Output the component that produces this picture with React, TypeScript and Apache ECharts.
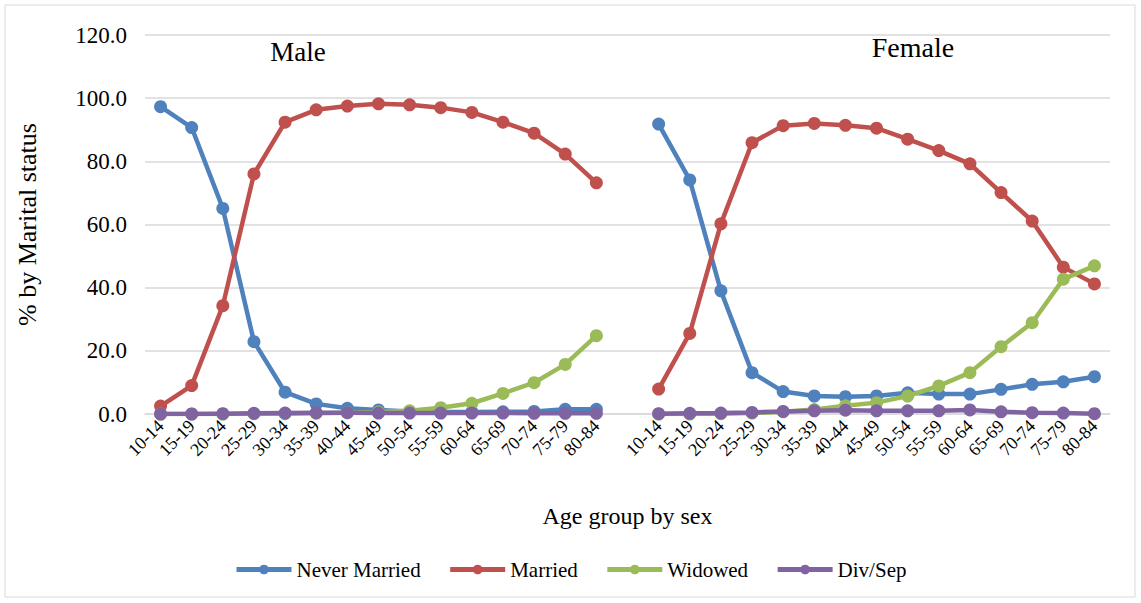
import React, { useEffect, useRef } from "react";
import * as echarts from "echarts";

const ages = ["10-14","15-19","20-24","25-29","30-34","35-39","40-44","45-49","50-54","55-59","60-64","65-69","70-74","75-79","80-84"];
const categories = [...ages, "", ...ages];

const maleNever = [97.3, 90.7, 65.1, 22.9, 6.9, 3.2, 1.8, 1.3, 0.8, 0.6, 0.6, 0.7, 0.8, 1.5, 1.5];
const maleMarried = [2.5, 9.0, 34.3, 76.0, 92.4, 96.3, 97.5, 98.2, 97.9, 97.0, 95.5, 92.4, 88.9, 82.3, 73.2];
const maleWidowed = [0.0, 0.0, 0.0, 0.1, 0.1, 0.2, 0.4, 0.6, 1.0, 2.0, 3.4, 6.5, 9.9, 15.7, 24.8];
const maleDiv = [0.0, 0.0, 0.1, 0.2, 0.3, 0.4, 0.4, 0.3, 0.3, 0.3, 0.3, 0.3, 0.2, 0.2, 0.2];

const femNever = [91.8, 74.1, 39.0, 13.1, 7.1, 5.7, 5.5, 5.7, 6.7, 6.3, 6.3, 7.8, 9.4, 10.2, 11.8];
const femMarried = [7.9, 25.5, 60.2, 85.9, 91.3, 92.0, 91.4, 90.5, 87.0, 83.4, 79.2, 70.1, 61.1, 46.5, 41.2];
const femWidowed = [0.0, 0.0, 0.1, 0.3, 0.7, 1.4, 2.6, 3.6, 5.7, 8.9, 13.1, 21.3, 28.9, 42.7, 46.9];
const femDiv = [0.1, 0.2, 0.3, 0.5, 0.8, 1.0, 1.2, 1.0, 1.0, 1.0, 1.3, 0.7, 0.4, 0.3, 0.1];

const seriesNames = ["Never Married", "Married", "Widowed", "Div/Sep"];
const colors = ["#4F81BD", "#C0504D", "#9BBB59", "#8064A2"];
const yTicks = [0, 20, 40, 60, 80, 100, 120];

const FONT = "'Liberation Serif', 'DejaVu Serif', serif";

export default function App() {
  const ref = useRef<HTMLDivElement>(null);
  useEffect(() => {
    document.body.style.margin = "0";
    const chart = echarts.init(ref.current!, undefined, { renderer: "svg" });
    const pairs = [
      [maleNever, femNever],
      [maleMarried, femMarried],
      [maleWidowed, femWidowed],
      [maleDiv, femDiv],
    ];
    const series = pairs.map((p, i) => ({
      name: seriesNames[i],
      type: "line",
      data: [...p[0], null, ...p[1]],
      symbol: "circle",
      symbolSize: 13,
      showSymbol: true,
      connectNulls: false,
      lineStyle: { width: 4.5, color: colors[i] },
      itemStyle: { color: colors[i] },
      z: 2 + i,
    }));
    chart.setOption({
      animation: false,
      backgroundColor: "#ffffff",
      textStyle: { fontFamily: FONT },
      grid: { left: 145, right: 31, top: 35, bottom: 189 },
      legend: {
        data: seriesNames,
        bottom: 18,
        left: 229,
        itemWidth: 55,
        itemHeight: 12,
        itemGap: 27,
        lineStyle: { width: 5 },
        textStyle: { fontFamily: FONT, fontSize: 21, color: "#000" },
      },
      xAxis: {
        type: "category",
        data: categories,
        boundaryGap: true,
        axisLine: { lineStyle: { color: "#D9D9D9", width: 1.5 } },
        axisTick: { show: false },
        axisLabel: { interval: 0, rotate: 45, fontFamily: FONT, fontSize: 18, color: "#000", margin: 9 },
        name: "Age group by sex",
        nameLocation: "middle",
        nameGap: 90,
        nameTextStyle: { fontFamily: FONT, fontSize: 24, color: "#000" },
      },
      yAxis: {
        type: "value",
        min: yTicks[0],
        max: yTicks[yTicks.length - 1],
        interval: 20,
        axisLine: { show: false },
        axisTick: { show: false },
        splitLine: { lineStyle: { color: "#D9D9D9", width: 1.5 } },
        axisLabel: { fontFamily: FONT, fontSize: 23, color: "#000", margin: 18, formatter: (v: number) => v.toFixed(1) },
        name: "% by Marital status",
        nameLocation: "middle",
        nameGap: 105,
        nameRotate: 90,
        nameTextStyle: { fontFamily: FONT, fontSize: 26, color: "#000" },
      },
      graphic: [
        { type: "rect", shape: { x: 5, y: 5, width: 1130, height: 592 }, style: { fill: "none", stroke: "#D9D9D9", lineWidth: 1 } },
        { type: "text", x: 298, y: 52, style: { text: "Male", font: `27px ${FONT}`, fill: "#000", textAlign: "center", textVerticalAlign: "middle" } },
        { type: "text", x: 913, y: 47, style: { text: "Female", font: `28px ${FONT}`, fill: "#000", textAlign: "center", textVerticalAlign: "middle" } },
      ],
      series,
    });
    return () => chart.dispose();
  }, []);
  return <div ref={ref} style={{ width: 1141, height: 603 }} />;
}
